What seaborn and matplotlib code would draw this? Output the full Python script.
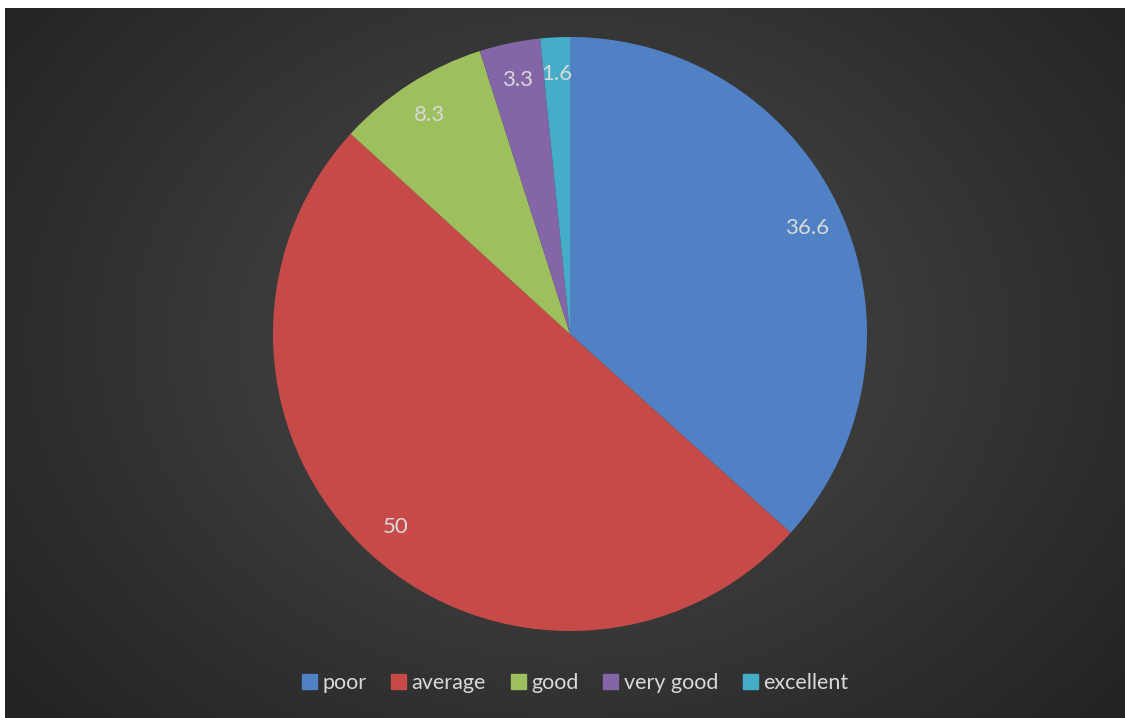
import numpy as np
import seaborn as sns
import matplotlib.pyplot as plt
from matplotlib.patches import Rectangle

categories = ['poor', 'average', 'good', 'very good', 'excellent']
values = [36.6, 50, 8.3, 3.3, 1.6]
value_labels = ['36.6', '50', '8.3', '3.3', '1.6']

sns.set_theme(style='white')
plt.rcParams['font.family'] = ['Lato', 'DejaVu Sans']
colors = sns.color_palette(['#4f81c4', '#c64b48', '#9dbf5e', '#8466a8', '#45adc8'])

fig = plt.figure(figsize=(11.25, 7.18), dpi=100)
fig.patch.set_facecolor('white')

# dark panel with radial gradient
bg = fig.add_axes([5 / 1125, 0, 1120 / 1125, 710 / 718])
yy, xx = np.mgrid[0:710, 0:1120]
cx, cy = 565, 330
d = np.sqrt(((xx - cx) / 700.0) ** 2 + ((yy - cy) / 560.0) ** 2)
shade = np.clip(0.30 - 0.16 * d, 0.14, 0.30)
img = np.dstack([shade, shade, shade])
bg.imshow(img, aspect='auto', interpolation='bilinear')
bg.set_axis_off()

ax = fig.add_axes([273 / 1125, 87 / 718, 594 / 1125, 594 / 718])
wedges, texts = ax.pie(values, labels=value_labels, colors=colors, startangle=90,
                       counterclock=False, labeldistance=0.875, radius=1,
                       wedgeprops=dict(linewidth=0),
                       textprops=dict(color='#d9d9d9', fontsize=16))
for t in texts:
    t.set_ha('center')
    t.set_va('center')
ax.set_xlim(-1, 1)
ax.set_ylim(-1, 1)
ax.set_aspect('equal')
ax.set_axis_off()

handles = [Rectangle((0, 0), 1, 1, color=c) for c in colors]
leg = fig.legend(handles, categories, loc='center', bbox_to_anchor=(575 / 1125, 1 - 683 / 718),
                 ncol=5, frameon=False, fontsize=15.5, handlelength=0.7, handleheight=0.7,
                 handletextpad=0.25, columnspacing=1.15, labelcolor='#d9d9d9')

fig.savefig('out.png', dpi=100)
